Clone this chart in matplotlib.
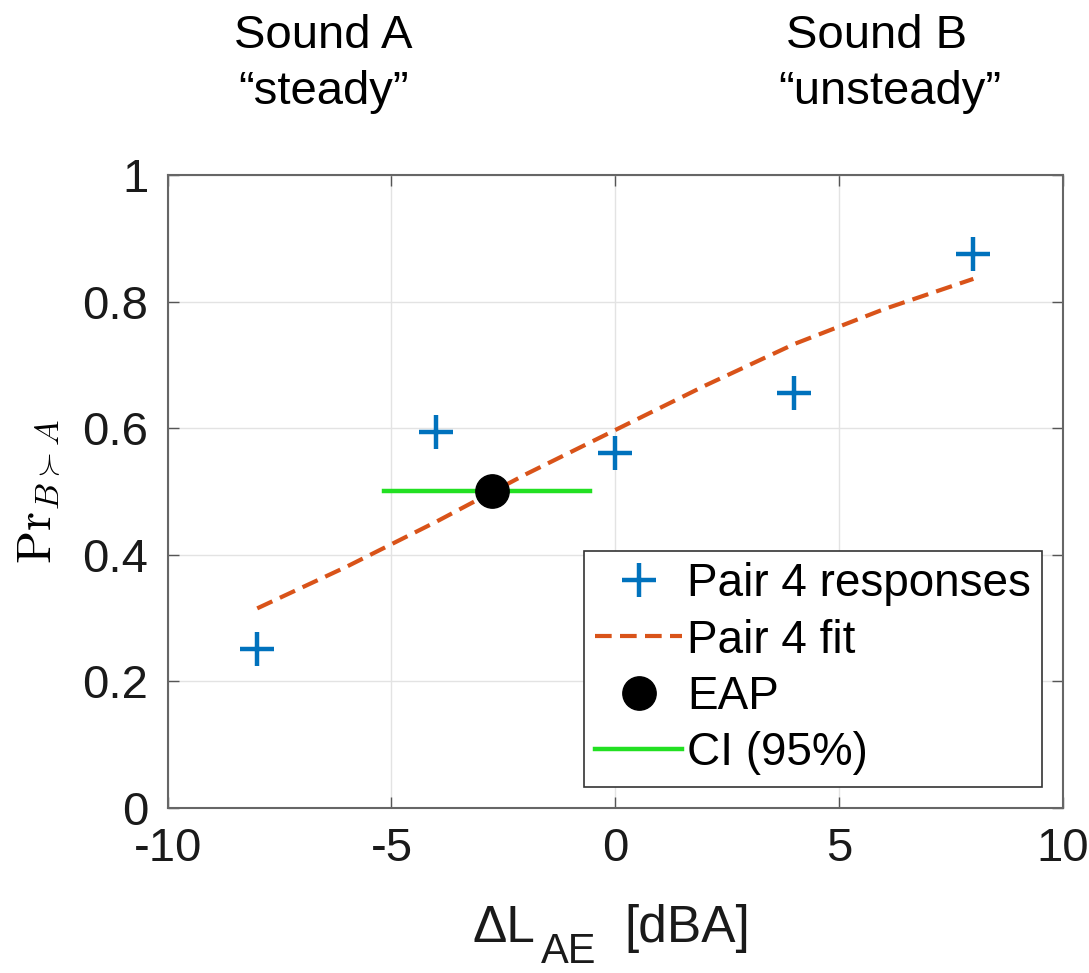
import matplotlib.pyplot as plt
import numpy as np

plt.rcParams['font.family'] = ['Liberation Sans', 'DejaVu Sans']
plt.rcParams['axes.unicode_minus'] = False

# responses
resp_x = [-8, -4, 0, 4, 8]
resp_y = [0.25, 0.594, 0.561, 0.656, 0.876]

# fitted curve
fit_x = [-8, -6, -4, -2, 0, 2, 4, 6, 8]
fit_y = [0.315, 0.381, 0.452, 0.527, 0.597, 0.667, 0.733, 0.788, 0.836]

# EAP and 95% CI
eap_x = -2.76
eap_y = 0.5
ci_x = [-5.17, -0.57]
ci_y = [0.5, 0.5]

xticks = [-10, -5, 0, 5, 10]
yticks = [0, 0.2, 0.4, 0.6, 0.8, 1]
ytick_labels = ['0', '0.2', '0.4', '0.6', '0.8', '1']

W, H = 1089, 973
fig = plt.figure(figsize=(W / 100, H / 100), dpi=100)
ax = fig.add_axes([0.154, 0.170, 0.822, 0.650])

ax.plot(resp_x, resp_y, '+', color='#0072BD', markersize=24, mew=3.2,
        label='Pair 4 responses', zorder=3)
ax.plot(fit_x, fit_y, '--', color='#D95319', lw=3, dashes=(4, 2),
        label='Pair 4 fit', zorder=2)
ax.plot([eap_x], [eap_y], 'o', color='black', markersize=24,
        label='EAP', zorder=5)
ax.plot(ci_x, ci_y, '-', color='#22E022', lw=3.2, label='CI (95%)', zorder=4)

ax.set_xlim(-10, 10)
ax.set_ylim(0, 1)
ax.set_xticks(xticks)
ax.set_yticks(yticks)
ax.set_yticklabels(ytick_labels)
ax.tick_params(direction='in', length=8, width=1, top=True, right=True,
               labelsize=34, pad=14, colors='#555555')
ax.tick_params(labelcolor='#1a1a1a')
ax.grid(True, color='#e3e3e3', lw=1)
ax.set_axisbelow(True)
for s in ax.spines.values():
    s.set_color('#666666')
    s.set_linewidth(1.5)

ax.set_ylabel(r'$\mathrm{Pr}_{B\succ A}$', fontsize=35, math_fontfamily='cm',
              labelpad=0)
ax.yaxis.set_label_coords(-0.118, 0.5)

# x label in pieces: big dropped subscript like the original
base = (H - 942) / H
fig.text(473 / W, base, '\u0394L', fontsize=37, ha='left', va='baseline',
         color='#1a1a1a')
fig.text(541 / W, base - 21 / H, 'AE', fontsize=30, ha='left', va='baseline',
         color='#1a1a1a')
fig.text(624 / W, base, '[dBA]', fontsize=37, ha='left', va='baseline',
         color='#1a1a1a')

leg = ax.legend(loc='lower right', bbox_to_anchor=(0.977, 0.033),
                fontsize=33, handlelength=1.9, handletextpad=0.1,
                labelspacing=0.27, borderpad=0.25, borderaxespad=0,
                fancybox=False, framealpha=1, edgecolor='#333333')
leg.get_frame().set_linewidth(1.2)

fig.text(0.297, 0.963, 'Sound A', fontsize=34, ha='center', va='center')
fig.text(0.297, 0.905, '\u201csteady\u201d', fontsize=34, ha='center', va='center')
fig.text(0.805, 0.963, 'Sound B', fontsize=34, ha='center', va='center')
fig.text(0.817, 0.905, '\u201cunsteady\u201d', fontsize=34, ha='center', va='center')

fig.savefig('out.png', dpi=100)
